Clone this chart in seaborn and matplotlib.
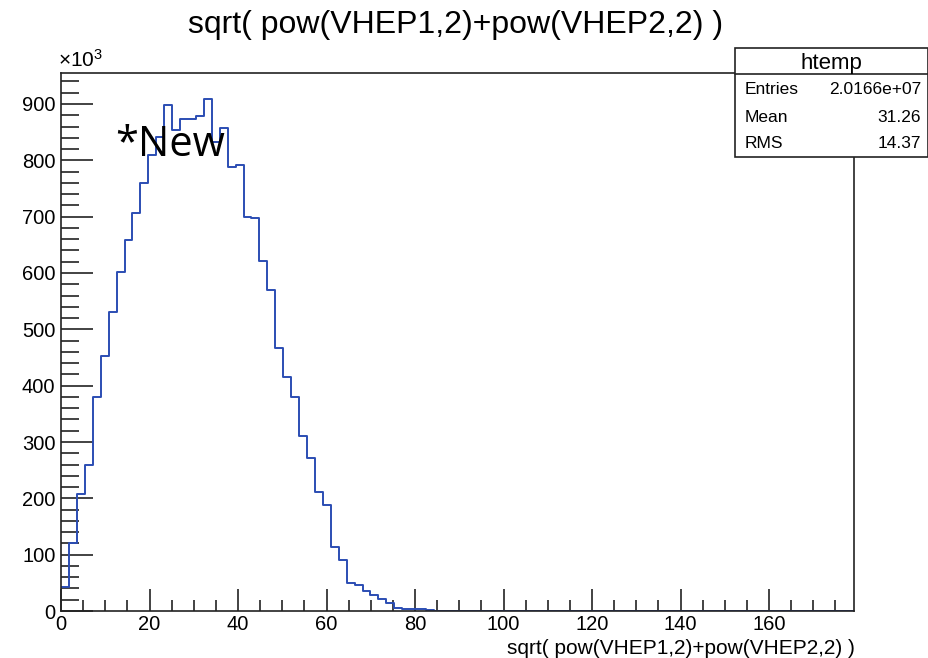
import numpy as np
import pandas as pd
import matplotlib
matplotlib.use("Agg")
import matplotlib.pyplot as plt
from matplotlib.patches import Rectangle
from matplotlib.lines import Line2D
import seaborn as sns

# histogram "htemp": 100 bins from 0 to ~179.3, contents in units of 10^3
x_low, x_high, n_bins = 0.0, 179.3, 100
counts_k = [43, 120, 207, 260, 380, 453, 530, 601, 659, 707,
            760, 810, 841, 898, 854, 873, 873, 878, 909, 832,
            858, 788, 792, 699, 697, 622, 569, 467, 415, 380,
            310, 272, 211, 188, 114, 90, 50, 47, 35, 28,
            21, 14, 5, 4, 3, 3, 2]
stats_names = ["Entries", "Mean", "RMS"]
stats_values = ["2.0166e+07", "31.26", "14.37"]
title = "sqrt( pow(VHEP1,2)+pow(VHEP2,2) )"

sns.set_style("ticks")
plt.rcParams['font.family'] = ['Liberation Sans', 'DejaVu Sans']
plt.rcParams['mathtext.fontset'] = 'custom'
plt.rcParams['mathtext.rm'] = 'Liberation Sans'
plt.rcParams['text.color'] = 'black'
plt.rcParams['axes.labelcolor'] = 'black'

edges = np.linspace(x_low, x_high, n_bins + 1)
centers = 0.5 * (edges[:-1] + edges[1:])[:len(counts_k)]
df = pd.DataFrame({'x': centers, 'w': counts_k})

fig = plt.figure(figsize=(9.29, 6.58), dpi=100)
ax = fig.add_axes([0.0657, 0.0714, 0.854, 0.8172])

sns.histplot(data=df, x='x', weights='w', bins=list(edges), element='step', fill=False,
             color='#2b4db3', linewidth=1.4, ax=ax)

ax.set_xlim(x_low, x_high)
ax.set_ylim(0, max(counts_k) * 1.05)
ax.set_xticks(np.arange(0, 161, 20))
ax.set_xticks(np.arange(0, 180, 5), minor=True)
ax.set_yticks(np.arange(0, 901, 100))
ax.set_yticks(np.arange(0, 951, 20), minor=True)
ax.tick_params(axis='both', which='both', direction='in', width=1.2, colors='#222222',
               labelsize=14.5, top=False, right=False)
ax.tick_params(axis='both', which='both', labelcolor='black')
ax.tick_params(axis='x', which='major', length=16, pad=3)
ax.tick_params(axis='x', which='minor', length=8)
ax.tick_params(axis='y', which='major', length=23, pad=4)
ax.tick_params(axis='y', which='minor', length=13)
for s in ax.spines.values():
    s.set_linewidth(1.2)
    s.set_color('#222222')
ax.set_ylabel('')
ax.set_xlabel(title, fontsize=15, ha='right', labelpad=0)
ax.xaxis.set_label_coords(1.0, -0.052)

ax.text(-0.004, 1.004, r'$\mathregular{\times10^{3}}$', transform=ax.transAxes,
        fontsize=15, ha='left', va='bottom')

fig.text(0.49, 0.962, title, fontsize=23, ha='center', va='center')

ax.text(12.3, 808, '*New', fontsize=30, family=['Open Sans', 'DejaVu Sans'],
        ha='left', va='baseline', color='black')

# stats box
bx0, by0, bx1, by1 = 735 / 929, 1 - 157 / 658, 928 / 929, 1 - 48 / 658
fig.add_artist(Rectangle((bx0, by0), bx1 - bx0, by1 - by0, transform=fig.transFigure,
                         facecolor='white', edgecolor='#222222', linewidth=1.2, zorder=5))
yline = 1 - 74 / 658
fig.add_artist(Line2D([bx0, bx1], [yline, yline], transform=fig.transFigure,
                      color='#222222', linewidth=1.2, zorder=6))
fig.text((bx0 + bx1) / 2, 1 - 63 / 658, 'htemp', fontsize=16, ha='center', va='center', zorder=7)
for i, (n, v) in enumerate(zip(stats_names, stats_values)):
    yy = 1 - (90 + i * 27) / 658
    fig.text(745 / 929, yy, n, fontsize=12.5, ha='left', va='center', zorder=7)
    fig.text(921 / 929, yy, v, fontsize=12.5, ha='right', va='center', zorder=7)

fig.savefig('out.png', dpi=100)
